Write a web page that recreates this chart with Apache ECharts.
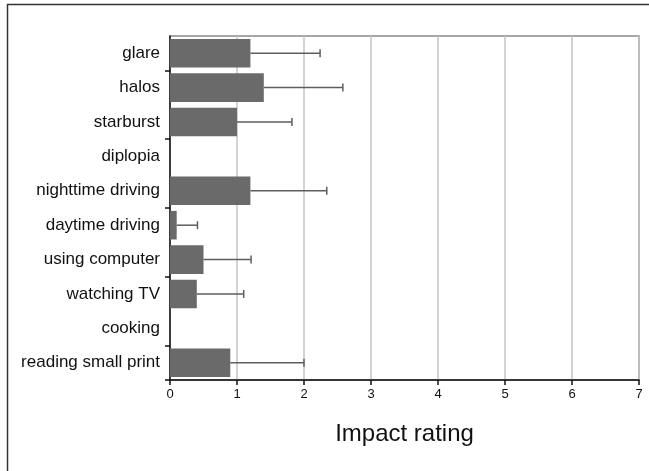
<!DOCTYPE html>
<html>
<head>
<meta charset="utf-8">
<script src="https://cdn.jsdelivr.net/npm/echarts@6/dist/echarts.min.js"></script>
<style>html,body{margin:0;padding:0;background:#fff}#c{width:649px;height:471px}</style>
</head>
<body>
<div id="c"></div>
<script>
var categories = ["glare","halos","starburst","diplopia","nighttime driving","daytime driving","using computer","watching TV","cooking","reading small print"];
var means = [1.2, 1.4, 1.0, 0, 1.2, 0.1, 0.5, 0.4, 0, 0.9];
var errUpper = [2.24, 2.58, 1.82, null, 2.34, 0.41, 1.21, 1.10, null, 2.0];
var xTicks = [0,1,2,3,4,5,6,7];

var chart = echarts.init(document.getElementById('c'), null, {renderer:'canvas'});
var errData = [];
for (var i = 0; i < categories.length; i++) {
  if (errUpper[i] != null) errData.push([means[i], errUpper[i], i]);
}
var font = 'Liberation Sans, Arial, sans-serif';
chart.setOption({
  animation: false,
  backgroundColor: '#fff',
  graphic: [
    {type:'line', shape:{x1:7, y1:4.5, x2:649, y2:4.5}, style:{stroke:'#333', lineWidth:1.5}, z:100},
    {type:'line', shape:{x1:7.5, y1:4, x2:7.5, y2:471}, style:{stroke:'#333', lineWidth:1.5}, z:100}
  ],
  grid: {left:170, right:10, top:36, bottom:91, show:true, borderColor:'#8a8a8a', borderWidth:1.5, backgroundColor:'transparent'},
  xAxis: {
    type:'value', min:0, max:7, interval:1,
    name:'Impact rating', nameLocation:'middle', nameGap:42,
    nameTextStyle:{fontFamily:font, fontSize:24, color:'#111'},
    axisLine:{show:true, lineStyle:{color:'#111', width:1.5}},
    axisTick:{show:true, length:5, lineStyle:{color:'#111', width:1.5}},
    axisLabel:{fontFamily:font, fontSize:13, color:'#111', margin:8, formatter:function(v){return xTicks.indexOf(v) >= 0 ? String(v) : '';}},
    splitLine:{show:true, lineStyle:{color:'#c4c4c4', width:1.5}}
  },
  yAxis: {
    type:'category', data:categories, inverse:true,
    axisLine:{show:true, lineStyle:{color:'#111', width:1.5}},
    axisTick:{show:true, length:5, lineStyle:{color:'#111', width:1.5}, interval:function(idx){return idx % 2 === 1;}},
    axisLabel:{fontFamily:font, fontSize:17, color:'#111', margin:10, interval:0},
    splitLine:{show:false}
  },
  series: [
    {
      type:'bar', data:means, barCategoryGap:'17%',
      itemStyle:{color:'#6a6a6a'}, z:2
    },
    {
      type:'custom', z:3,
      data: errData,
      renderItem: function(params, api){
        var y = api.value(2);
        var p0 = api.coord([api.value(0), y]);
        var p1 = api.coord([api.value(1), y]);
        var h = 4;
        return {type:'group', children:[
          {type:'line', shape:{x1:p0[0], y1:p0[1], x2:p1[0], y2:p1[1]}, style:{stroke:'#5e5e5e', lineWidth:1.5}},
          {type:'line', shape:{x1:p1[0], y1:p1[1]-h, x2:p1[0], y2:p1[1]+h}, style:{stroke:'#5e5e5e', lineWidth:1.5}}
        ]};
      },
      encode:{x:[0,1], y:2}
    }
  ]
});
</script>
</body>
</html>
